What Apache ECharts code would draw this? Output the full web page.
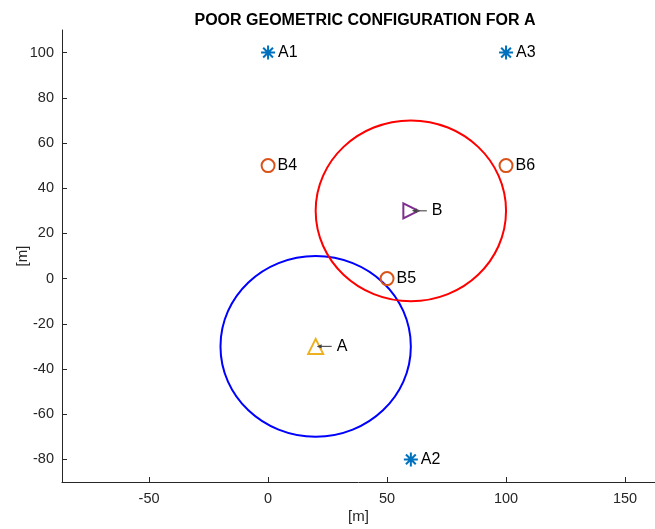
<!DOCTYPE html>
<html>
<head>
<meta charset="utf-8">
<script src="https://cdn.jsdelivr.net/npm/echarts@6/dist/echarts.min.js"></script>
<style>
  html, body { margin: 0; padding: 0; background: #fff; }
  #chart { width: 655px; height: 529px; }
</style>
</head>
<body>
<div id="chart"></div>
<script>
// Anchor stations (asterisks)
const anchorNames = ['A1', 'A2', 'A3'];
const anchorX = [0, 60, 100];
const anchorY = [100, -80, 100];

// Beacon stations (hollow circles)
const beaconNames = ['B4', 'B5', 'B6'];
const beaconX = [0, 50, 100];
const beaconY = [50, 0, 50];

// Targets and their range circles
const targetA = [20, -30];
const targetB = [60, 30];
const rangeCenters = [[20, -30], [60, 30]];
const rangeRadii = [40, 40];

// Axis tick values
const xTicks = [-50, 0, 50, 100, 150];
const yTicks = [-80, -60, -40, -20, 0, 20, 40, 60, 80, 100];

const FONT = '"Liberation Sans", Arial, Helvetica, sans-serif';
const AXIS_COLOR = '#262626';
const ringColors = ['#0000FF', '#FF0000'];
const asterisk = 'path://M50,0L50,100M0,50L100,50M15,15L85,85M15,85L85,15';

const chart = echarts.init(document.getElementById('chart'), null, { renderer: 'canvas' });

function axisCommon(ticks, margin) {
  return {
    type: 'value',
    axisLine: { show: true, onZero: false, lineStyle: { color: AXIS_COLOR, width: 1 } },
    axisTick: { show: true, inside: true, length: 5, customValues: ticks, lineStyle: { color: AXIS_COLOR, width: 1 } },
    axisLabel: { customValues: ticks, margin: margin, color: '#262626', fontFamily: FONT, fontSize: 14.5 },
    splitLine: { show: false },
    nameMoveOverlap: false,
    nameTextStyle: { color: '#262626', fontFamily: FONT, fontSize: 15 }
  };
}

const plainLabel = {
  show: true,
  position: 'right',
  distance: 2,
  color: '#000',
  fontFamily: FONT,
  fontSize: 16,
  formatter: p => p.name
};

function hollow(color) {
  return { color: 'transparent', borderColor: color, borderWidth: 2, opacity: 1 };
}

const option = {
  backgroundColor: '#fff',
  animation: false,
  title: {
    text: 'POOR GEOMETRIC CONFIGURATION FOR A',
    left: 360, top: 8, textAlign: 'center',
    textStyle: { fontFamily: FONT, fontSize: 16, fontWeight: 'bold', color: '#000' }
  },
  grid: { left: 62, right: 0, top: 30, bottom: 47, containLabel: false, outerBoundsMode: 'none' },
  xAxis: Object.assign(axisCommon(xTicks, 9), {
    min: -86.6, max: 162.6,
    name: '[m]', nameLocation: 'middle', nameGap: 27
  }),
  yAxis: Object.assign(axisCommon(yTicks, 8), {
    min: -90, max: 110,
    name: '[m]', nameLocation: 'middle', nameGap: 32
  }),
  series: [
    {
      type: 'custom',
      name: 'ranges',
      z: 1,
      data: rangeCenters.map((c, i) => [c[0], c[1], rangeRadii[i]]),
      renderItem: function (params, api) {
        const c = api.coord([api.value(0), api.value(1)]);
        const s = api.size([api.value(2), api.value(2)]);
        return {
          type: 'ellipse',
          shape: { cx: c[0], cy: c[1], rx: s[0], ry: s[1] },
          style: { fill: 'none', stroke: ringColors[params.dataIndex], lineWidth: 2 }
        };
      }
    },
    {
      type: 'scatter',
      name: 'anchors',
      z: 3,
      symbol: asterisk,
      symbolSize: 14,
      itemStyle: hollow('#0072BD'),
      label: plainLabel,
      data: anchorNames.map((n, i) => ({ name: n, value: [anchorX[i], anchorY[i]] }))
    },
    {
      type: 'scatter',
      name: 'beacons',
      z: 3,
      symbol: 'circle',
      symbolSize: 13,
      itemStyle: hollow('#D95319'),
      label: plainLabel,
      data: beaconNames.map((n, i) => ({ name: n, value: [beaconX[i], beaconY[i]] }))
    },
    {
      type: 'scatter',
      name: 'A',
      z: 3,
      symbol: 'triangle',
      symbolSize: 15,
      itemStyle: hollow('#EDB120'),
      data: [{ name: 'A', value: targetA }]
    },
    {
      type: 'scatter',
      name: 'B',
      z: 3,
      symbol: 'triangle',
      symbolRotate: -90,
      symbolSize: 15,
      itemStyle: hollow('#7E2F8E'),
      data: [{ name: 'B', value: targetB }]
    },
    {
      // "← A" / "← B" annotations pointing at the targets
      type: 'custom',
      name: 'annotations',
      z: 4,
      data: [
        { name: 'A', value: targetA },
        { name: 'B', value: targetB }
      ],
      renderItem: function (params, api) {
        const c = api.coord([api.value(0), api.value(1)]);
        const x0 = c[0] + 1, x1 = c[0] + 16, y = c[1];
        const name = params.dataIndex === 0 ? 'A' : 'B';
        return {
          type: 'group',
          children: [
            {
              type: 'line',
              shape: { x1: x0 + 2, y1: y, x2: x1, y2: y },
              style: { stroke: '#555', lineWidth: 1.2 }
            },
            {
              type: 'polygon',
              shape: { points: [[x0, y], [x0 + 5, y - 2.2], [x0 + 5, y + 2.2]] },
              style: { fill: '#444' }
            },
            {
              type: 'text',
              style: {
                text: name, x: c[0] + 21, y: y,
                textAlign: 'left', textVerticalAlign: 'middle',
                fill: '#000', font: '16px ' + FONT
              }
            }
          ]
        };
      }
    }
  ]
};

chart.setOption(option);
</script>
</body>
</html>
